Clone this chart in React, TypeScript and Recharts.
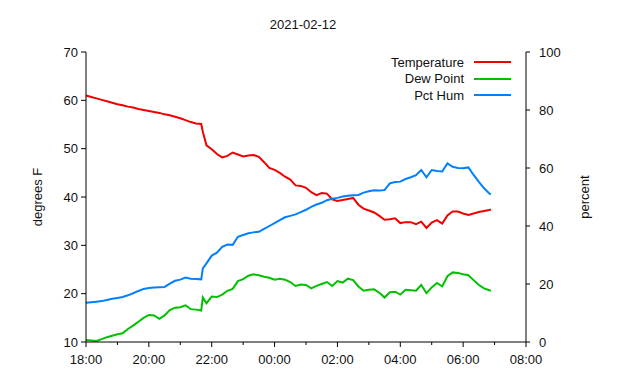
import { LineChart, Line, XAxis, YAxis, Legend } from 'recharts';

// minutes after 18:00
const TIMES = [
  0, 10, 20, 30, 40, 50, 60, 70, 80, 90, 100, 110, 120, 130, 140, 150, 160, 170, 180, 190, 200, 210, 220, 223,
  230, 240, 250, 260, 270, 280, 290, 300, 310, 320, 330, 340, 350, 360, 370, 380, 390, 400, 410, 420, 430, 440,
  450, 460, 470, 480, 490, 500, 510, 520, 530, 540, 550, 560, 570, 580, 590, 600, 610, 620, 630, 640, 650, 660,
  670, 680, 690, 700, 710, 720, 730, 740, 750, 760, 770, 773,
];

const TEMPERATURE = [
  61.0, 60.7, 60.4, 60.1, 59.8, 59.5, 59.2, 59.0, 58.7, 58.5, 58.2, 58.0, 57.8, 57.6, 57.4, 57.1, 56.9, 56.6, 56.3, 55.9, 55.5, 55.2, 55.1, 53.5,
  50.7, 49.9, 48.9, 48.2, 48.5, 49.2, 48.8, 48.4, 48.6, 48.7, 48.3, 47.2, 46.0, 45.6, 45.0, 44.2, 43.6, 42.4, 42.3, 41.9, 41.0, 40.4,
  40.8, 40.7, 39.5, 39.2, 39.4, 39.6, 39.8, 38.4, 37.6, 37.2, 36.8, 36.1, 35.3, 35.4, 35.6, 34.6, 34.8, 34.8, 34.4, 34.9, 33.6, 34.7,
  35.2, 34.5, 36.2, 37.0, 37.0, 36.6, 36.3, 36.6, 36.9, 37.1, 37.3, 37.4,
];

const DEW_POINT = [
  10.4, 10.3, 10.2, 10.6, 11.0, 11.3, 11.6, 11.8, 12.7, 13.4, 14.2, 15.0, 15.6, 15.5, 14.8, 15.5, 16.6, 17.1, 17.2, 17.6, 16.8, 16.7, 16.5, 19.2,
  18.0, 19.4, 19.3, 19.8, 20.6, 21.0, 22.6, 23.0, 23.7, 24.0, 23.8, 23.5, 23.3, 22.9, 23.1, 22.9, 22.4, 21.6, 21.9, 21.8, 21.1, 21.6,
  22.0, 22.4, 21.6, 22.6, 22.3, 23.1, 22.8, 21.5, 20.6, 20.8, 20.9, 20.2, 19.2, 20.3, 20.4, 19.8, 20.8, 20.7, 20.6, 21.8, 20.1, 21.3,
  22.2, 21.5, 23.6, 24.4, 24.3, 24.0, 23.8, 22.8, 21.8, 21.1, 20.7, 20.6,
];

const PCT_HUM = [
  13.5, 13.7, 13.9, 14.1, 14.5, 14.9, 15.2, 15.5, 16.1, 16.8, 17.6, 18.3, 18.6, 18.8, 18.9, 19.0, 20.1, 21.1, 21.5, 22.2, 21.8, 21.7, 21.6, 25.4,
  27.1, 29.8, 30.8, 32.8, 33.6, 33.5, 36.3, 36.9, 37.5, 37.8, 38.0, 39.0, 40.0, 41.0, 42.0, 43.0, 43.5, 44.0, 44.8, 45.6, 46.6, 47.4,
  48.0, 48.9, 49.4, 49.7, 50.2, 50.4, 50.6, 50.7, 51.5, 52.0, 52.3, 52.2, 52.4, 54.7, 55.2, 55.3, 56.2, 56.8, 57.5, 59.3, 56.8, 59.3,
  59.0, 58.8, 61.6, 60.4, 60.0, 59.9, 60.2, 57.6, 55.2, 53.0, 51.2, 50.9,
];

const SERIES_ORDER = ['Temperature', 'Dew Point', 'Pct Hum'];
const X_TICKS = [0, 60, 120, 180, 240, 300, 360, 420, 480, 540, 600, 660, 720, 780, 840];
const LEFT_TICKS = [10, 20, 30, 40, 50, 60, 70];
const RIGHT_TICKS = [0, 20, 40, 60, 80, 100];

const data = TIMES.map((t, i) => ({
  t,
  temp: TEMPERATURE[i],
  dew: DEW_POINT[i],
  hum: PCT_HUM[i],
}));

const FONT = '"Liberation Sans", Arial, sans-serif';
const INK = '#111';

const fmtTime = (v: number) => {
  const h = (18 + Math.round(v / 60)) % 24;
  return `${String(h).padStart(2, '0')}:00`;
};

const XTick = (props: any) => {
  const { x, y, payload } = props;
  const major = payload.value % 120 === 0;
  return (
    <g>
      <line x1={x} y1={y} x2={x} y2={y + (major ? 5 : 3)} stroke="#000" />
      {major && (
        <text x={x} y={y + 22} textAnchor="middle" fontSize={13} fontFamily={FONT} fill={INK}>
          {fmtTime(payload.value)}
        </text>
      )}
    </g>
  );
};

const LegendBox = (props: any) => {
  const items = [...(props.payload || [])].sort(
    (a: any, b: any) => SERIES_ORDER.indexOf(a.value) - SERIES_ORDER.indexOf(b.value)
  );
  return (
    <div style={{ fontFamily: FONT, fontSize: 13, color: INK }}>
      {items.map((it: any) => (
        <div key={it.value} style={{ display: 'flex', alignItems: 'center', justifyContent: 'flex-end', height: 16.5 }}>
          <span>{it.value}</span>
          <svg width={47} height={4} style={{ marginLeft: 10 }}>
            <line x1={0} y1={2} x2={37} y2={2} stroke={it.color} strokeWidth={2} />
          </svg>
        </div>
      ))}
    </div>
  );
};

export default function App() {
  return (
    <div style={{ position: 'relative', width: 640, height: 380, background: '#fff' }}>
      <style>{`body{margin:0}`}</style>
      <div
        style={{
          position: 'absolute',
          top: 17,
          left: 253,
          width: 100,
          textAlign: 'center',
          fontFamily: FONT,
          fontSize: 13,
          color: INK,
        }}
      >
        2021-02-12
      </div>
      <LineChart width={640} height={380} data={data} margin={{ top: 52, right: 54, left: 26, bottom: 0 }}>
        <XAxis
          dataKey="t"
          type="number"
          domain={[0, 840]}
          ticks={X_TICKS}
          interval={0}
          height={38}
          tickSize={0}
          tickMargin={0}
          tickLine={false}
          tick={<XTick />}
          axisLine={{ stroke: '#000' }}
        />
        <XAxis
          xAxisId="top"
          orientation="top"
          type="number"
          domain={[0, 840]}
          height={0}
          tick={false}
          tickLine={false}
          axisLine={{ stroke: '#000' }}
        />
        <YAxis
          yAxisId="left"
          domain={[10, 70]}
          ticks={LEFT_TICKS}
          interval={0}
          width={60}
          tickSize={5}
          tickMargin={3}
          tickLine={{ stroke: '#000' }}
          axisLine={{ stroke: '#000' }}
          tick={{ fill: INK, fontSize: 13, fontFamily: FONT }}
          label={{
            content: (p: any) => {
              const cx = p.viewBox.x + 11;
              const cy = p.viewBox.y + p.viewBox.height / 2;
              return (
                <text x={cx} y={cy} transform={`rotate(-90 ${cx} ${cy})`} textAnchor="middle" dominantBaseline="central" fontSize={13} fontFamily={FONT} fill={INK}>
                  degrees F
                </text>
              );
            },
          }}
        />
        <YAxis
          yAxisId="right"
          orientation="right"
          domain={[0, 100]}
          ticks={RIGHT_TICKS}
          interval={0}
          width={60}
          tickSize={4}
          tickMargin={9}
          tickLine={{ stroke: '#000' }}
          axisLine={{ stroke: '#000' }}
          tick={{ fill: INK, fontSize: 13, fontFamily: FONT, textAnchor: 'start' }}
          label={{
            content: (p: any) => {
              const cx = p.viewBox.x + 58;
              const cy = p.viewBox.y + p.viewBox.height / 2;
              return (
                <text x={cx} y={cy} transform={`rotate(-90 ${cx} ${cy})`} textAnchor="middle" dominantBaseline="central" fontSize={13} fontFamily={FONT} fill={INK}>
                  percent
                </text>
              );
            },
          }}
        />
        <Legend
          layout="vertical"
          align="center"
          verticalAlign="middle"
          content={<LegendBox />}
          wrapperStyle={{ position: 'absolute', top: 54, left: 306, width: 215, height: 52 }}
        />
        <Line yAxisId="left" dataKey="temp" name="Temperature" stroke="#f00000" strokeWidth={2} dot={false} isAnimationActive={false} />
        <Line yAxisId="left" dataKey="dew" name="Dew Point" stroke="#00c000" strokeWidth={2} dot={false} isAnimationActive={false} />
        <Line yAxisId="right" dataKey="hum" name="Pct Hum" stroke="#0080ff" strokeWidth={2} dot={false} isAnimationActive={false} />
      </LineChart>
    </div>
  );
}
